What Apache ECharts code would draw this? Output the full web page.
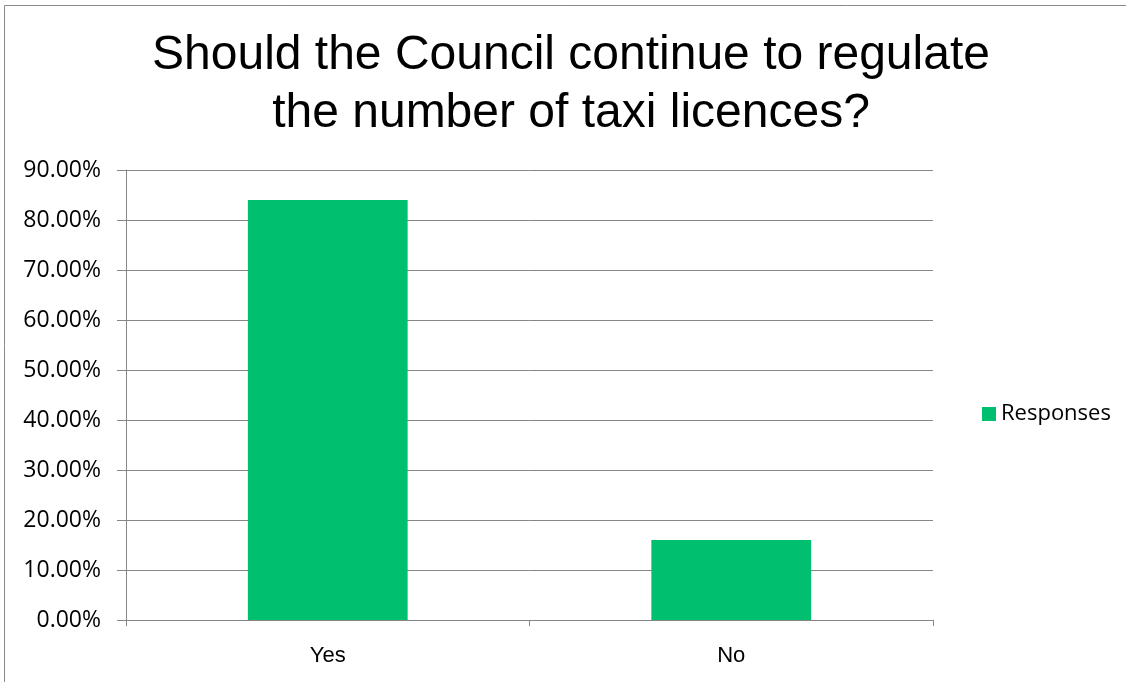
<!DOCTYPE html>
<html><head><meta charset="utf-8">
<script src="https://cdn.jsdelivr.net/npm/echarts@6/dist/echarts.min.js"></script>
<style>html,body{margin:0;padding:0;background:#fff}#c{width:1126px;height:682px}</style>
</head><body><div id="c"></div>
<script>
const categories = ["Yes", "No"];
const responses = [84.0, 16.0];
const seriesName = "Responses";
const titleText = "Should the Council continue to regulate\nthe number of taxi licences?";
const yMin = 0, yMax = 90, yStep = 10;

const chart = echarts.init(document.getElementById('c'));
chart.setOption({
  animation: false,
  backgroundColor: '#fff',
  graphic: [{
    type: 'rect', shape: {x: 4.5, y: 5.5, width: 1200, height: 800},
    style: {fill: 'none', stroke: '#8a8a8a', lineWidth: 1}, silent: true
  }],
  title: {
    text: titleText, left: 566, top: 22, textAlign: 'center',
    textStyle: {fontFamily: 'Liberation Sans', fontSize: 48, fontWeight: 'normal', color: '#000', lineHeight: 58}
  },
  legend: {
    left: 977, top: 398, itemWidth: 14, itemHeight: 14, itemGap: 6,
    icon: 'rect',
    textStyle: {fontFamily: 'Open Sans', fontSize: 22, color: '#000', padding: [0,0,0,0]},
    data: [seriesName]
  },
  grid: {left: 126, right: 193, top: 170, bottom: 62, containLabel: false},
  xAxis: {
    type: 'category', data: categories,
    axisLine: {lineStyle: {color: '#868686', width: 1}},
    axisTick: {show: true, alignWithLabel: false, length: 6, lineStyle: {color: '#868686'}},
    axisLabel: {fontFamily: 'Liberation Sans', fontSize: 22, color: '#000', margin: 25}
  },
  yAxis: {
    type: 'value', min: yMin, max: yMax, interval: yStep,
    axisLine: {show: true, lineStyle: {color: '#868686', width: 1}},
    axisTick: {show: true, length: 9, inside: false, lineStyle: {color: '#868686'}},
    splitLine: {lineStyle: {color: '#868686', width: 1}},
    axisLabel: {fontFamily: 'Open Sans', fontSize: 23, color: '#000', margin: 25,
      formatter: v => v.toFixed(2) + '%'}
  },
  series: [{
    name: seriesName, type: 'bar', data: responses, barWidth: '39.6%',
    itemStyle: {color: '#00BF6F'}
  }]
});
</script></body></html>
